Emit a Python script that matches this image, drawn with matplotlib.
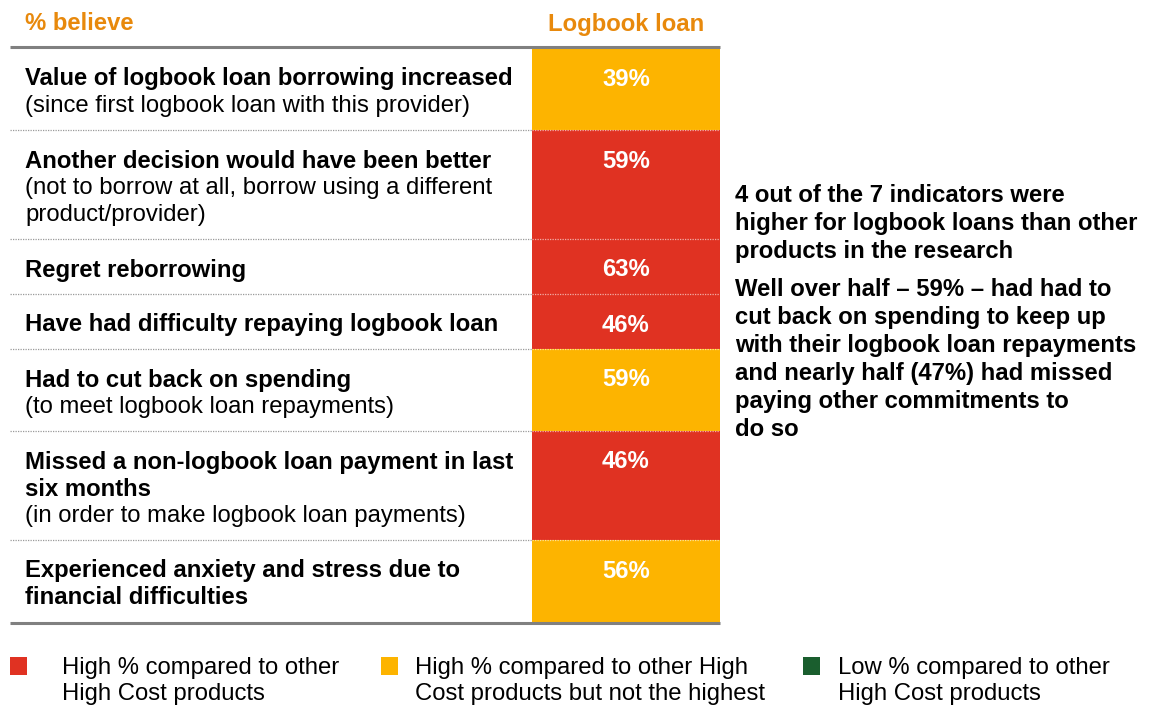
import matplotlib.pyplot as plt
from matplotlib.patches import Rectangle

plt.rcParams["font.family"] = ["Liberation Sans", "DejaVu Sans"]

RED = "#E03222"
YELLOW = "#FDB400"
GREEN = "#1A5E2E"
ORANGE = "#E8890C"
RULE = "#808080"

# rows of the table: bold heading lines, note lines in brackets, value, rating
headings = [
    ["Value of logbook loan borrowing increased"],
    ["Another decision would have been better"],
    ["Regret reborrowing"],
    ["Have had difficulty repaying logbook loan"],
    ["Had to cut back on spending"],
    ["Missed a non-logbook loan payment in last", "six months"],
    ["Experienced anxiety and stress due to", "financial difficulties"],
]
notes = [
    ["(since first logbook loan with this provider)"],
    ["(not to borrow at all, borrow using a different", "product/provider)"],
    [],
    [],
    ["(to meet logbook loan repayments)"],
    ["(in order to make logbook loan payments)"],
    [],
]
values = [39, 59, 63, 46, 59, 46, 56]
ratings = ["mid", "high", "high", "high", "mid", "high", "mid"]
rating_colors = {"high": RED, "mid": YELLOW, "low": GREEN}

legend_labels = [
    ("high", ["High % compared to other", "High Cost products"]),
    ("mid", ["High % compared to other High", "Cost products but not the highest"]),
    ("low", ["Low % compared to other", "High Cost products"]),
]

side_note = [
    ["4 out of the 7 indicators were",
     "higher for logbook loans than other",
     "products in the research"],
    ["Well over half \u2013 59% \u2013 had had to",
     "cut back on spending to keep up",
     "with their logbook loan repayments",
     "and nearly half (47%) had missed",
     "paying other commitments to",
     "do so"],
]

W, H = 1159, 709
fig = plt.figure(figsize=(W / 100, H / 100), dpi=100)
ax = fig.add_axes([0, 0, 1, 1])
ax.set_xlim(0, W)
ax.set_ylim(H, 0)
ax.axis("off")

FS = 17.2
LINE = 27
LEFT, RIGHT = 10, 720
COL_L, COL_R = 532, 720
TEXT_X = 25


def lines_at(x, y0, lines, step, **kw):
    for k, s in enumerate(lines):
        ax.text(x, y0 + k * step, s, fontsize=FS, va="center", color="black", **kw)


# header
ax.text(TEXT_X, 24, "% believe", color=ORANGE, fontsize=FS, fontweight="bold", va="center")
ax.text((COL_L + COL_R) / 2, 24, "Logbook loan", color=ORANGE, fontsize=FS,
        fontweight="bold", va="center", ha="center")
ax.plot([LEFT, RIGHT], [47, 47], color=RULE, lw=2.2, solid_capstyle="butt")

top = 48
for i, (head, note, val, rating) in enumerate(zip(headings, notes, values, ratings)):
    height = 28 + LINE * (len(head) + len(note))
    ax.add_patch(Rectangle((COL_L, top), COL_R - COL_L, height,
                           facecolor=rating_colors[rating], edgecolor="none", zorder=1))
    y = top + 31
    ax.text((COL_L + COL_R) / 2, y, f"{val}%", color="white", fontsize=FS,
            fontweight="bold", ha="center", va="center", zorder=3)
    lines_at(TEXT_X, y, head, LINE, fontweight="bold")
    lines_at(TEXT_X, y + LINE * len(head), note, LINE)
    top += height
    if i < len(headings) - 1:
        ax.plot([LEFT, COL_L], [top, top], color="#9a9a9a", lw=0.9, ls=(0, (1, 1)), zorder=2)
        ax.plot([COL_L, COL_R], [top, top], color="white", lw=0.9, ls=(0, (1, 1)),
                alpha=0.6, zorder=2)

ax.plot([LEFT, RIGHT], [top + 1, top + 1], color=RULE, lw=2.2, solid_capstyle="butt")

# commentary to the right of the table
lines_at(735, 196, side_note[0], 27.8, fontweight="bold")
lines_at(735, 290, side_note[1], 27.8, fontweight="bold")

# legend
for (key, label), (x, tx) in zip(legend_labels, [(10, 62), (381, 415), (803, 838)]):
    ax.add_patch(Rectangle((x, 657), 17, 18, facecolor=rating_colors[key], edgecolor="none"))
    lines_at(tx, 668, label, 26)

fig.savefig("out.png", dpi=100)
